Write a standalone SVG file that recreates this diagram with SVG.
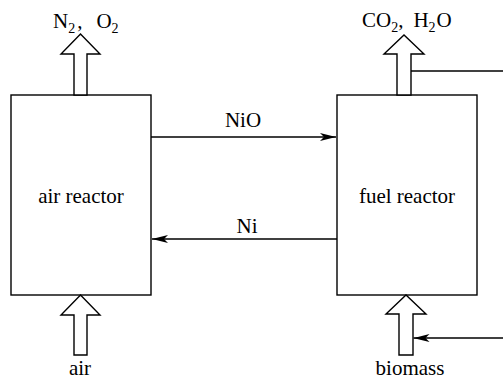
<svg xmlns="http://www.w3.org/2000/svg" width="503" height="379" viewBox="0 0 503 379">
<defs>
<style>
.box{fill:#fff;stroke:#000;stroke-width:1.4}
.blk{fill:#fff;stroke:#000;stroke-width:1.4;stroke-linejoin:miter}
.ln{fill:none;stroke:#000;stroke-width:1.4}
text{font-family:'Liberation Serif','DejaVu Serif',serif;font-size:21px;fill:#000}
.sub{font-size:14px}
</style>
<marker id="ah" viewBox="0 0 16 8" refX="16" refY="4" markerWidth="16" markerHeight="8" markerUnits="userSpaceOnUse" orient="auto">
<path d="M0,0 L16,4 L0,8 L4,4 Z" fill="#000"/>
</marker>
</defs>
<rect width="503" height="379" fill="#fff"/>
<g id="air-reactor">
<rect class="box" x="11" y="95" width="140" height="200"/>
<text x="81" y="203" text-anchor="middle" font-family="Liberation Serif">air reactor</text>
</g>
<g id="fuel-reactor">
<rect class="box" x="337" y="95" width="140" height="200"/>
<text x="407" y="203" text-anchor="middle" font-family="Liberation Serif">fuel reactor</text>
</g>
<g id="air-out">
<polygon class="blk" points="74,95 74,54 61,54 80.5,34 100,54 87,54 87,95"/>
<text x="53" y="28" font-family="Liberation Serif">N<tspan class="sub" dy="5">2</tspan><tspan dy="-5" dx="2">,</tspan><tspan dx="14">O</tspan><tspan class="sub" dy="5">2</tspan></text>
</g>
<g id="fuel-out">
<polygon class="blk" points="397,95 397,54 384,54 404,35 424,54 411,54 411,95"/>
<text x="362" y="27" font-family="Liberation Serif">CO<tspan class="sub" dy="5">2</tspan><tspan dy="-5">,</tspan><tspan dx="10">H</tspan><tspan class="sub" dy="5">2</tspan><tspan dy="-5" dx="1">O</tspan></text>
</g>
<g id="air-in">
<polygon class="blk" points="74,355 74,315 61,315 80.5,295 100,315 87,315 87,355"/>
<text x="80" y="375" text-anchor="middle" font-family="Liberation Serif">air</text>
</g>
<g id="biomass-in">
<polygon class="blk" points="399,355 399,314 386,314 406,295 426,314 413,314 413,355"/>
<text x="410" y="375" text-anchor="middle" font-family="Liberation Serif">biomass</text>
</g>
<g id="connectors">
<line class="ln" x1="151" y1="137" x2="336" y2="137" marker-end="url(#ah)"/>
<text x="243" y="127" text-anchor="middle" font-family="Liberation Serif">NiO</text>
<line class="ln" x1="337" y1="239" x2="152" y2="239" marker-end="url(#ah)"/>
<text x="247" y="233" text-anchor="middle" font-family="Liberation Serif">Ni</text>
<line class="ln" x1="411" y1="71" x2="503" y2="71"/>
<line class="ln" x1="503" y1="338" x2="413.5" y2="338" marker-end="url(#ah)"/>
</g>
</svg>
